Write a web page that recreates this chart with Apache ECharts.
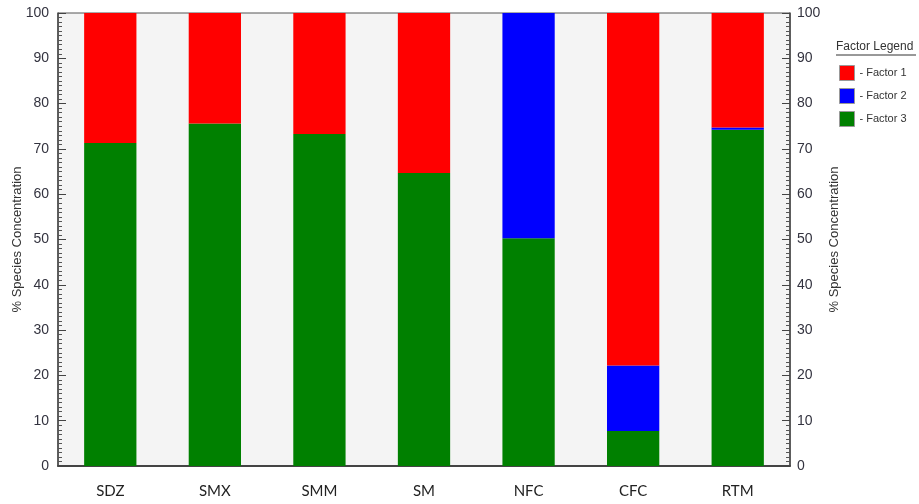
<!DOCTYPE html>
<html>
<head>
<meta charset="utf-8">
<script src="https://cdn.jsdelivr.net/npm/echarts@6/dist/echarts.min.js"></script>
<style>
html,body{margin:0;padding:0;background:#fff;}
#chart{width:919px;height:504px;}
</style>
</head>
<body>
<div id="chart"></div>
<script>
const categories = ['SDZ', 'SMX', 'SMM', 'SM', 'NFC', 'CFC', 'RTM'];
const factor3 = [71.3, 75.6, 73.3, 64.7, 50.3, 7.7, 74.2];
const factor2 = [0, 0, 0, 0, 49.7, 14.5, 0.5];
const factor1 = [28.7, 24.4, 26.7, 35.3, 0, 77.8, 25.3];
const legendNames = ['Factor 1', 'Factor 2', 'Factor 3'];
const colors = { 'Factor 1': '#ff0000', 'Factor 2': '#0000ff', 'Factor 3': '#008000' };

const chart = echarts.init(document.getElementById('chart'));

function yAxis(pos) {
  return {
    type: 'value',
    position: pos,
    min: 0, max: 100, interval: 10,
    name: '% Species Concentration',
    nameLocation: 'middle',
    nameRotate: 90,
    nameMoveOverlap: false,
    nameGap: pos === 'left' ? 34 : 38,
    nameTextStyle: { fontFamily: 'Liberation Sans', fontSize: 13, color: '#333' },
    axisLine: { show: true, lineStyle: { color: '#444', width: 1.5 } },
    axisTick: { show: true, inside: true, length: 8, lineStyle: { color: '#444' } },
    minorTick: { show: true, splitNumber: 10, length: 4, lineStyle: { color: '#555' } },
    axisLabel: { fontFamily: 'Liberation Sans', fontSize: 14, color: '#33333f', margin: pos === 'left' ? 9 : 7 },
    splitLine: { show: false }
  };
}

function series(name, data) {
  return {
    name: name,
    type: 'bar',
    stack: 'total',
    data: data,
    barWidth: '50%',
    itemStyle: { color: colors[name], borderWidth: 0 },
    emphasis: { disabled: true }
  };
}

chart.setOption({
  animation: false,
  backgroundColor: '#ffffff',
  grid: {
    left: 58, right: 129, top: 13, bottom: 38,
    outerBoundsMode: 'none',
    containLabel: false,
    show: true, backgroundColor: '#f4f4f4', borderColor: '#555', borderWidth: 1
  },
  xAxis: {
    type: 'category',
    data: categories,
    axisLine: { show: true, lineStyle: { color: '#444', width: 2 } },
    axisTick: { show: false },
    axisLabel: { fontFamily: 'Lato', fontSize: 15, color: '#222', margin: 18 }
  },
  yAxis: [yAxis('left'), yAxis('right')],
  legend: {
    data: legendNames,
    orient: 'vertical',
    left: 834,
    top: 60,
    itemWidth: 15,
    itemHeight: 15,
    itemGap: 7,
    icon: 'rect',
    formatter: '- {name}',
    itemStyle: { borderColor: '#999', borderWidth: 1 },
    textStyle: { fontFamily: 'Liberation Sans', fontSize: 11, color: '#333' },
    selectedMode: false
  },
  graphic: [
    { type: 'text', left: 836, top: 41,
      style: { text: 'Factor Legend', fontFamily: 'Liberation Sans', fontSize: 12, fill: '#333' } },
    { type: 'line', shape: { x1: 836, y1: 55, x2: 916, y2: 55 }, style: { stroke: '#333', lineWidth: 1 } }
  ],
  series: [
    series('Factor 3', factor3),
    series('Factor 2', factor2),
    series('Factor 1', factor1)
  ]
});
</script>
</body>
</html>
